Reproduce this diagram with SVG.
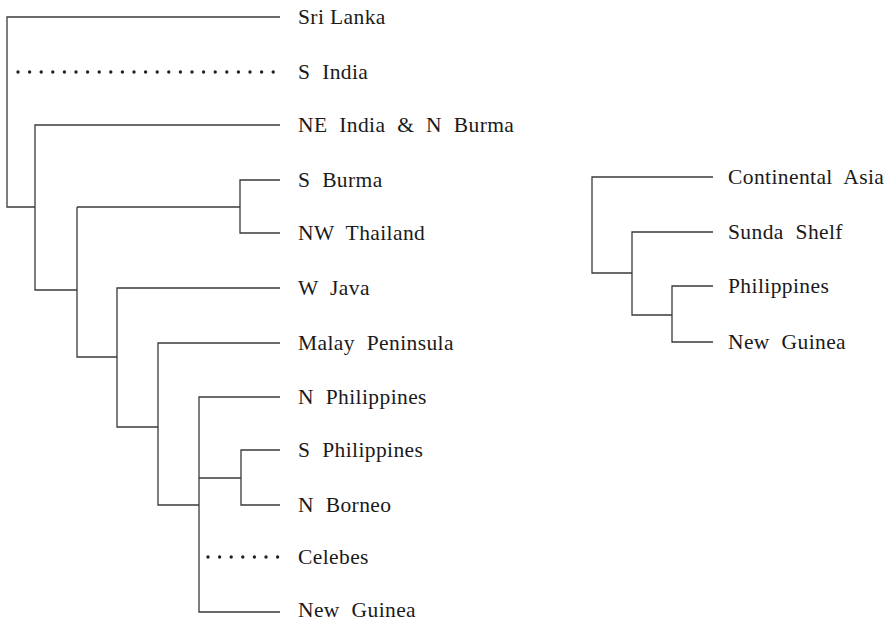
<svg xmlns="http://www.w3.org/2000/svg" width="893" height="621" viewBox="0 0 893 621">
<style>
.t{font-family:"Liberation Serif","Times New Roman",serif;font-size:21.5px;fill:#1a1a1a;letter-spacing:0.4px;word-spacing:6px}
.e{fill:none;stroke:#3a3a3a;stroke-width:1.3}
.d{fill:none;stroke:#222;stroke-width:3.4;stroke-linecap:round;stroke-dasharray:0 11.6}
</style>
<rect width="893" height="621" fill="#ffffff"/>
<g id="connectors">
<path class="e" d="M280 17H7V207H35"/>
<path class="d" d="M18 72H280"/>
<path class="e" d="M280 125H35V290H77"/>
<path class="e" d="M77 207V357H117"/>
<path class="e" d="M77 207H240"/>
<path class="e" d="M280 180H240V233H280"/>
<path class="e" d="M280 288H117V427H158"/>
<path class="e" d="M280 343H158V505H199"/>
<path class="e" d="M280 397H199V612H280"/>
<path class="e" d="M199 478H241"/>
<path class="e" d="M280 450H241V505H280"/>
<path class="d" d="M208 557H278"/>
<path class="e" d="M713 177H592V273H632"/>
<path class="e" d="M713 232H632V315H672"/>
<path class="e" d="M713 286H672V342H713"/>
</g>
<g id="sri-lanka"><text class="t" x="298" y="24" style="word-spacing:0">Sri Lanka</text></g>
<g id="s-india"><text class="t" x="298" y="79">S India</text></g>
<g id="ne-india"><text class="t" x="298" y="132">NE India &amp; N Burma</text></g>
<g id="s-burma"><text class="t" x="298" y="187">S Burma</text></g>
<g id="nw-thailand"><text class="t" x="298" y="240">NW Thailand</text></g>
<g id="w-java"><text class="t" x="298" y="295">W Java</text></g>
<g id="malay"><text class="t" x="298" y="350">Malay Peninsula</text></g>
<g id="n-philippines"><text class="t" x="298" y="404">N Philippines</text></g>
<g id="s-philippines"><text class="t" x="298" y="457">S Philippines</text></g>
<g id="n-borneo"><text class="t" x="298" y="512">N Borneo</text></g>
<g id="celebes"><text class="t" x="298" y="564">Celebes</text></g>
<g id="new-guinea"><text class="t" x="298" y="617">New Guinea</text></g>
<g id="continental-asia"><text class="t" x="728" y="184">Continental Asia</text></g>
<g id="sunda-shelf"><text class="t" x="728" y="239">Sunda Shelf</text></g>
<g id="philippines"><text class="t" x="728" y="293">Philippines</text></g>
<g id="new-guinea-2"><text class="t" x="728" y="349">New Guinea</text></g>
</svg>
